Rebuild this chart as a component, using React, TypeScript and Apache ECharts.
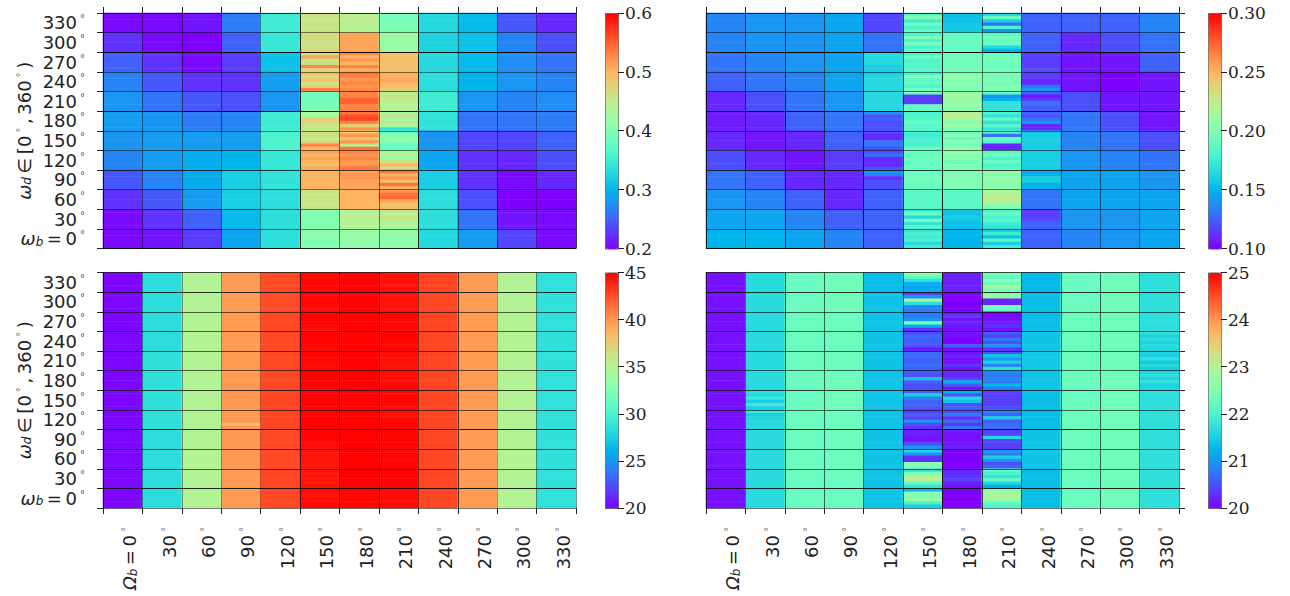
import React, { useEffect, useRef } from "react";
import * as echarts from "echarts";

const columnLabels = ["0", "30", "60", "90", "120", "150", "180", "210", "240", "270", "300", "330"];
const rowLabels = ["330", "300", "270", "240", "210", "180", "150", "120", "90", "60", "30", "0"];
const fineRows = Array.from({ length: 72 }, (_, i) => String(i));
const rainbow = [
  "#8000ff", "#6628fe", "#4d4ffc", "#3374f8", "#1a96f2", "#00b4ec", "#1acee3", "#33e3d9", "#4df3ce", "#66fcc2", "#80ffb4",
  "#99fca5", "#b3f396", "#cce385", "#e6ce74", "#ffb462", "#ff964f", "#ff743b", "#ff4f28", "#ff2814", "#ff0000",
];

// Each column runs from the top row down. 12 values = whole cells, 72 values = six stripes per cell.
const topLeftColumns: number[][] = [
  [0.205, 0.225, 0.25, 0.27, 0.28, 0.285, 0.28, 0.27, 0.245, 0.225, 0.205, 0.205],
  [0.205, 0.205, 0.225, 0.245, 0.26, 0.28, 0.285, 0.285, 0.27, 0.245, 0.225, 0.21],
  [0.21, 0.2, 0.205, 0.225, 0.245, 0.265, 0.285, 0.295, 0.295, 0.285, 0.25, 0.23],
  [0.265, 0.25, 0.23, 0.225, 0.24, 0.27, 0.285, 0.3, 0.32, 0.32, 0.305, 0.29],
  [0.35, 0.345, 0.31, 0.285, 0.28, 0.35, 0.36, 0.345, 0.34, 0.335, 0.335, 0.335],
  [
    0.46, 0.46, 0.45, 0.47, 0.45, 0.46, 0.47, 0.46, 0.47, 0.46, 0.46, 0.48,
    0.47, 0.51, 0.46, 0.46, 0.53, 0.47, 0.49, 0.47, 0.49, 0.46, 0.48, 0.53,
    0.39, 0.39, 0.39, 0.39, 0.39, 0.4, 0.43, 0.43, 0.48, 0.47, 0.46, 0.45,
    0.46, 0.46, 0.45, 0.47, 0.53, 0.5, 0.51, 0.5, 0.51, 0.5, 0.49, 0.51,
    0.5, 0.5, 0.5, 0.5, 0.5, 0.5, 0.46, 0.45, 0.46, 0.46, 0.45, 0.46,
    0.405, 0.405, 0.4, 0.4, 0.4, 0.405, 0.41, 0.41, 0.41, 0.4, 0.4, 0.41,
  ],
  [
    0.44, 0.45, 0.44, 0.45, 0.44, 0.44, 0.51, 0.51, 0.51, 0.51, 0.51, 0.51,
    0.53, 0.5, 0.52, 0.5, 0.53, 0.5, 0.54, 0.53, 0.52, 0.53, 0.52, 0.53,
    0.53, 0.53, 0.55, 0.55, 0.53, 0.53, 0.54, 0.56, 0.565, 0.53, 0.48, 0.52,
    0.48, 0.52, 0.49, 0.52, 0.45, 0.54, 0.53, 0.52, 0.53, 0.52, 0.52, 0.54,
    0.51, 0.52, 0.52, 0.51, 0.51, 0.51, 0.5, 0.5, 0.5, 0.5, 0.5, 0.5,
    0.44, 0.44, 0.45, 0.44, 0.44, 0.44, 0.42, 0.42, 0.42, 0.42, 0.41, 0.42,
  ],
  [
    0.395, 0.39, 0.39, 0.4, 0.4, 0.39, 0.43, 0.42, 0.42, 0.42, 0.42, 0.43,
    0.49, 0.49, 0.49, 0.49, 0.49, 0.49, 0.5, 0.5, 0.51, 0.5, 0.49, 0.48,
    0.44, 0.46, 0.45, 0.44, 0.44, 0.44, 0.42, 0.46, 0.42, 0.46, 0.43, 0.34,
    0.38, 0.4, 0.42, 0.4, 0.38, 0.38, 0.43, 0.44, 0.42, 0.46, 0.5, 0.47,
    0.54, 0.5, 0.52, 0.49, 0.54, 0.5, 0.52, 0.54, 0.545, 0.51, 0.49, 0.49,
    0.46, 0.44, 0.46, 0.44, 0.44, 0.43, 0.41, 0.42, 0.41, 0.41, 0.41, 0.41,
  ],
  [0.33, 0.325, 0.33, 0.335, 0.35, 0.34, 0.28, 0.29, 0.32, 0.335, 0.335, 0.33],
  [0.305, 0.31, 0.305, 0.3, 0.28, 0.26, 0.235, 0.225, 0.225, 0.24, 0.26, 0.285],
  [0.245, 0.27, 0.275, 0.28, 0.27, 0.26, 0.235, 0.22, 0.205, 0.2, 0.21, 0.235],
  [0.22, 0.24, 0.26, 0.27, 0.275, 0.265, 0.25, 0.24, 0.22, 0.2, 0.205, 0.205],
];

const topRightColumns: number[][] = [
  [0.135, 0.135, 0.13, 0.125, 0.11, 0.107, 0.11, 0.12, 0.13, 0.14, 0.145, 0.15],
  [0.14, 0.14, 0.135, 0.13, 0.12, 0.11, 0.105, 0.11, 0.125, 0.135, 0.145, 0.15],
  [0.14, 0.14, 0.14, 0.135, 0.13, 0.125, 0.11, 0.105, 0.11, 0.125, 0.135, 0.145],
  [0.145, 0.145, 0.145, 0.145, 0.14, 0.13, 0.125, 0.115, 0.11, 0.11, 0.125, 0.135],
  [
    0.118, 0.118, 0.118, 0.118, 0.118, 0.118, 0.13, 0.13, 0.13, 0.13, 0.13, 0.13,
    0.165, 0.165, 0.165, 0.165, 0.16, 0.16, 0.16, 0.165, 0.165, 0.165, 0.165, 0.165,
    0.165, 0.165, 0.165, 0.165, 0.165, 0.165, 0.14, 0.12, 0.125, 0.12, 0.12, 0.12,
    0.12, 0.11, 0.11, 0.13, 0.13, 0.12, 0.12, 0.13, 0.11, 0.11, 0.11, 0.12,
    0.14, 0.135, 0.11, 0.12, 0.12, 0.12, 0.125, 0.125, 0.125, 0.125, 0.125, 0.125,
    0.125, 0.125, 0.125, 0.125, 0.125, 0.125, 0.125, 0.125, 0.125, 0.125, 0.125, 0.125,
  ],
  [
    0.185, 0.2, 0.175, 0.195, 0.18, 0.19, 0.18, 0.2, 0.18, 0.195, 0.18, 0.19,
    0.18, 0.195, 0.18, 0.185, 0.18, 0.185, 0.18, 0.2, 0.185, 0.19, 0.18, 0.195,
    0.195, 0.115, 0.115, 0.115, 0.19, 0.19, 0.18, 0.18, 0.185, 0.19, 0.185, 0.185,
    0.18, 0.175, 0.18, 0.18, 0.18, 0.19, 0.19, 0.19, 0.195, 0.19, 0.19, 0.19,
    0.192, 0.192, 0.195, 0.192, 0.192, 0.192, 0.185, 0.185, 0.185, 0.185, 0.185, 0.185,
    0.175, 0.19, 0.165, 0.195, 0.17, 0.185, 0.17, 0.18, 0.175, 0.18, 0.165, 0.175,
  ],
  [
    0.155, 0.155, 0.155, 0.158, 0.158, 0.158, 0.19, 0.19, 0.19, 0.19, 0.19, 0.19,
    0.195, 0.195, 0.195, 0.195, 0.195, 0.195, 0.2, 0.21, 0.2, 0.205, 0.2, 0.2,
    0.21, 0.215, 0.21, 0.205, 0.21, 0.205, 0.22, 0.225, 0.215, 0.2, 0.21, 0.2,
    0.19, 0.205, 0.19, 0.2, 0.195, 0.21, 0.205, 0.2, 0.205, 0.195, 0.2, 0.2,
    0.2, 0.2, 0.2, 0.2, 0.2, 0.2, 0.185, 0.185, 0.185, 0.185, 0.185, 0.185,
    0.155, 0.155, 0.16, 0.158, 0.155, 0.155, 0.15, 0.15, 0.15, 0.15, 0.15, 0.15,
  ],
  [
    0.165, 0.19, 0.16, 0.13, 0.18, 0.14, 0.185, 0.195, 0.19, 0.19, 0.165, 0.15,
    0.19, 0.195, 0.195, 0.195, 0.19, 0.195, 0.2, 0.195, 0.2, 0.195, 0.2, 0.2,
    0.19, 0.14, 0.15, 0.17, 0.17, 0.17, 0.18, 0.17, 0.19, 0.17, 0.185, 0.17,
    0.18, 0.13, 0.19, 0.18, 0.11, 0.11, 0.185, 0.195, 0.18, 0.19, 0.18, 0.185,
    0.215, 0.2, 0.205, 0.21, 0.2, 0.205, 0.215, 0.22, 0.225, 0.22, 0.21, 0.2,
    0.18, 0.19, 0.18, 0.185, 0.175, 0.17, 0.16, 0.175, 0.155, 0.185, 0.16, 0.175,
  ],
  [
    0.125, 0.125, 0.125, 0.125, 0.125, 0.125, 0.125, 0.125, 0.125, 0.125, 0.125, 0.125,
    0.115, 0.115, 0.115, 0.115, 0.115, 0.12, 0.115, 0.115, 0.11, 0.11, 0.13, 0.14,
    0.125, 0.105, 0.115, 0.13, 0.125, 0.125, 0.125, 0.12, 0.13, 0.14, 0.11, 0.11,
    0.16, 0.16, 0.16, 0.16, 0.16, 0.16, 0.16, 0.16, 0.16, 0.16, 0.16, 0.16,
    0.145, 0.15, 0.16, 0.16, 0.15, 0.15, 0.13, 0.13, 0.13, 0.13, 0.13, 0.13,
    0.115, 0.115, 0.115, 0.12, 0.125, 0.125, 0.125, 0.125, 0.125, 0.125, 0.125, 0.125,
  ],
  [0.125, 0.11, 0.105, 0.105, 0.12, 0.13, 0.135, 0.14, 0.145, 0.145, 0.14, 0.135],
  [0.125, 0.12, 0.105, 0.1, 0.105, 0.12, 0.13, 0.135, 0.145, 0.145, 0.14, 0.14],
  [0.135, 0.13, 0.125, 0.105, 0.105, 0.105, 0.12, 0.13, 0.14, 0.145, 0.145, 0.145],
];

const bottomLeftColumns: number[][] = [
  [20.2, 20.2, 20.2, 20.2, 20.2, 20.2, 20.2, 20.2, 20.2, 20.2, 20.2, 20.2],
  [28.4, 28.4, 28.4, 28.4, 28.5, 28.5, 28.5, 28.5, 28.4, 28.4, 28.4, 28.4],
  [35.0, 35.0, 35.0, 35.0, 35.0, 35.0, 35.0, 35.0, 35.0, 35.0, 35.0, 35.0],
  [
    39.8, 39.8, 39.8, 39.8, 39.8, 39.8, 39.8, 39.8, 39.8, 39.8, 39.8, 39.8,
    39.8, 39.8, 39.8, 39.8, 39.8, 39.8, 39.8, 39.8, 39.8, 39.8, 39.8, 39.8,
    39.8, 39.8, 39.8, 39.8, 39.8, 39.8, 39.6, 39.7, 39.7, 39.8, 39.9, 39.9,
    39.9, 39.9, 39.9, 39.9, 39.9, 39.9, 39.9, 39.9, 39.9, 39.9, 38.2, 39.9,
    39.9, 39.9, 39.9, 39.9, 39.9, 39.9, 39.9, 39.9, 39.9, 39.9, 39.9, 39.9,
    39.8, 39.8, 39.8, 39.8, 39.8, 39.8, 39.8, 39.8, 39.8, 39.8, 39.8, 39.8,
  ],
  [42.6, 42.6, 42.7, 42.7, 42.7, 42.7, 42.8, 42.8, 42.7, 42.7, 42.8, 42.7],
  [
    44.7, 44.7, 44.8, 44.8, 44.7, 44.7, 44.8, 44.7, 44.8, 44.8, 44.7, 44.6,
    44.8, 44.9, 44.9, 44.8, 44.7, 44.4, 44.9, 44.9, 44.8, 44.8, 44.8, 44.6,
    44.8, 44.8, 44.8, 44.7, 44.6, 44.7, 44.9, 44.9, 44.9, 44.8, 44.9, 44.7,
    44.9, 44.9, 44.9, 44.9, 44.9, 44.8, 44.9, 44.9, 44.9, 44.9, 44.9, 44.8,
    44.8, 44.8, 44.8, 44.8, 44.6, 44.6, 44.5, 44.3, 44.4, 44.4, 44.3, 44.3,
    44.3, 44.2, 44.3, 44.4, 44.2, 44.5, 44.7, 44.5, 44.5, 44.6, 44.6, 44.7,
  ],
  [44.9, 44.9, 44.9, 44.9, 44.9, 45.0, 44.9, 44.9, 45.0, 45.0, 45.0, 44.8],
  [
    44.4, 44.4, 44.5, 44.4, 44.5, 44.5, 44.5, 44.4, 44.3, 44.4, 44.5, 44.4,
    44.8, 44.8, 44.8, 44.7, 44.8, 44.6, 44.9, 44.9, 44.9, 44.8, 44.7, 44.8,
    44.5, 44.6, 44.4, 44.5, 44.3, 44.5, 44.7, 44.5, 44.7, 44.6, 44.8, 44.8,
    44.8, 44.7, 44.8, 44.8, 44.8, 44.6, 44.6, 44.5, 44.6, 44.8, 44.8, 44.8,
    44.9, 44.8, 44.8, 44.9, 44.9, 44.8, 44.7, 44.8, 44.8, 44.7, 44.9, 44.9,
    44.9, 44.9, 44.9, 44.9, 44.9, 44.9, 44.7, 44.6, 44.7, 44.6, 44.7, 44.6,
  ],
  [42.8, 42.8, 42.8, 42.8, 42.8, 42.8, 42.8, 42.8, 42.8, 42.8, 42.8, 42.8],
  [39.8, 39.8, 39.8, 39.8, 39.8, 39.8, 39.8, 39.8, 39.8, 39.8, 39.8, 39.8],
  [35.0, 35.0, 35.0, 35.0, 35.0, 35.0, 35.0, 35.0, 35.0, 35.0, 35.0, 35.0],
  [28.6, 28.6, 28.6, 28.6, 28.6, 28.6, 28.6, 28.6, 28.6, 28.6, 28.6, 28.6],
];

const bottomRightColumns: number[][] = [
  [20.1, 20.1, 20.1, 20.1, 20.1, 20.1, 20.1, 20.1, 20.1, 20.1, 20.1, 20.1],
  [
    21.65, 21.65, 21.65, 21.65, 21.65, 21.65, 21.65, 21.65, 21.65, 21.65, 21.65, 21.65,
    21.65, 21.65, 21.65, 21.65, 21.65, 21.65, 21.65, 21.65, 21.65, 21.65, 21.65, 21.65,
    21.65, 21.65, 21.65, 21.65, 21.65, 21.65, 21.65, 21.65, 21.65, 21.65, 21.65, 21.65,
    21.7, 21.6, 21.85, 21.5, 21.85, 21.5, 21.85, 21.5, 21.6, 21.65, 21.65, 21.65,
    21.65, 21.65, 21.65, 21.65, 21.65, 21.65, 21.65, 21.65, 21.65, 21.65, 21.65, 21.65,
    21.65, 21.65, 21.65, 21.65, 21.65, 21.65, 21.65, 21.65, 21.65, 21.65, 21.65, 21.65,
  ],
  [22.3, 22.3, 22.3, 22.3, 22.3, 22.3, 22.3, 22.3, 22.3, 22.3, 22.3, 22.3],
  [22.35, 22.35, 22.3, 22.3, 22.3, 22.35, 22.35, 22.3, 22.3, 22.3, 22.3, 22.3],
  [21.35, 21.4, 21.4, 21.4, 21.4, 21.4, 21.4, 21.4, 21.4, 21.4, 21.4, 21.4],
  [
    22.7, 22.2, 21.7, 21.2, 21.1, 21.2, 20.4, 21.0, 22.8, 21.7, 20.9, 20.8,
    20.8, 20.8, 21.0, 22.4, 21.2, 20.3, 20.5, 20.7, 20.6, 20.6, 20.5, 20.1,
    20.7, 20.7, 20.6, 20.6, 20.7, 20.6, 20.6, 20.5, 21.4, 20.6, 20.5, 20.5,
    20.6, 21.5, 20.9, 20.6, 20.7, 20.5, 20.4, 20.6, 20.4, 21.0, 20.5, 20.3,
    20.2, 20.2, 20.1, 20.1, 20.5, 21.0, 21.6, 21.0, 20.3, 20.3, 22.6, 22.5,
    21.7, 22.5, 23.1, 23.0, 22.2, 21.8, 21.3, 22.6, 22.4, 22.8, 22.0, 21.5,
  ],
  [
    20.2, 20.2, 20.2, 20.2, 20.2, 20.2, 20.0, 20.0, 20.0, 20.0, 20.0, 20.0,
    20.2, 20.4, 20.1, 20.3, 20.1, 20.1, 20.1, 20.1, 20.0, 20.0, 20.6, 20.1,
    20.1, 20.2, 20.1, 20.1, 20.3, 20.1, 20.3, 20.2, 20.4, 21.2, 20.6, 20.1,
    21.2, 20.5, 21.6, 21.4, 20.5, 20.6, 20.5, 20.8, 20.3, 20.7, 20.3, 20.8,
    20.2, 20.1, 20.1, 20.1, 20.1, 20.2, 20.0, 20.0, 20.0, 20.0, 20.0, 20.0,
    20.2, 20.3, 20.3, 20.4, 20.2, 20.1, 20.0, 20.0, 20.0, 20.0, 20.0, 20.0,
  ],
  [
    22.4, 22.2, 22.6, 22.3, 22.9, 22.4, 22.6, 22.7, 20.2, 20.2, 22.4, 22.2,
    20.0, 20.1, 20.1, 20.2, 20.3, 20.1, 20.6, 20.4, 20.8, 20.5, 21.0, 20.3,
    20.5, 21.4, 21.0, 21.5, 20.9, 21.7, 20.9, 20.8, 20.9, 20.8, 21.3, 20.8,
    20.4, 20.4, 20.4, 20.4, 20.4, 20.5, 20.9, 20.6, 21.5, 20.6, 20.7, 20.7,
    20.4, 20.4, 21.6, 20.5, 20.4, 20.4, 21.0, 20.8, 21.5, 21.0, 20.5, 20.6,
    22.2, 22.0, 21.8, 22.2, 21.6, 21.2, 22.5, 22.9, 23.0, 22.7, 22.3, 22.0,
  ],
  [21.3, 21.35, 21.35, 21.4, 21.45, 21.4, 21.35, 21.35, 21.4, 21.4, 21.35, 21.35],
  [22.3, 22.3, 22.3, 22.3, 22.3, 22.3, 22.3, 22.3, 22.3, 22.3, 22.3, 22.3],
  [22.35, 22.35, 22.35, 22.35, 22.35, 22.35, 22.35, 22.35, 22.35, 22.35, 22.35, 22.35],
  [
    21.7, 21.7, 21.7, 21.7, 21.7, 21.7, 21.7, 21.7, 21.7, 21.7, 21.7, 21.7,
    21.7, 21.7, 21.7, 21.7, 21.7, 21.7, 21.7, 21.55, 21.7, 21.55, 21.65, 21.6,
    21.55, 21.5, 21.7, 21.45, 21.65, 21.5, 21.6, 21.7, 21.55, 21.75, 21.55, 21.6,
    21.7, 21.7, 21.7, 21.7, 21.7, 21.7, 21.7, 21.7, 21.7, 21.7, 21.7, 21.7,
    21.7, 21.7, 21.7, 21.7, 21.7, 21.7, 21.7, 21.7, 21.7, 21.7, 21.7, 21.7,
    21.7, 21.7, 21.7, 21.7, 21.7, 21.7, 21.7, 21.7, 21.7, 21.7, 21.7, 21.7,
  ],
];

// Line darkness (the reference's resampling makes them uneven).
const verticalAlpha = [
  [0.85, 0.5, 0.5, 0.5, 0.35, 0.85, 0.5, 0.5, 0.85, 0.45, 0.45, 0.35, 0.7],
  [0.8, 0.6, 0.7, 0.6, 0.8, 0.7, 0.85, 0.5, 0.4, 0.5, 0.5, 0.4, 0.7],
  [0.8, 0.4, 0.4, 0.3, 0.25, 0.7, 0.5, 0.4, 0.4, 0.7, 0.3, 0.4, 0.4],
  [0.6, 0.4, 0.7, 0.6, 0.5, 0.6, 0.85, 0.7, 0.5, 0.6, 0.6, 0.4, 0.5],
];
const horizontalAlpha = [
  [0.8, 0.5, 0.95, 0.5, 0.55, 0.9, 0.5, 0.55, 0.75, 0.5, 0.55, 0.5, 0.9],
  [0.8, 0.5, 0.95, 0.5, 0.55, 0.9, 0.5, 0.55, 0.75, 0.5, 0.55, 0.5, 0.9],
  [0.7, 0.8, 0.6, 0.6, 0.6, 0.6, 0.75, 0.6, 0.85, 0.6, 0.6, 0.85, 0.5],
  [0.7, 0.8, 0.6, 0.6, 0.6, 0.6, 0.75, 0.6, 0.85, 0.6, 0.6, 0.85, 0.5],
];

const panelColumns = [topLeftColumns, topRightColumns, bottomLeftColumns, bottomRightColumns];
const scaleMin = [0.2, 0.1, 20, 20];
const scaleMax = [0.6, 0.3, 45, 25];
const scaleStep = [0.1, 0.05, 5, 1];
const scaleDecimals = [1, 2, 0, 0];

const INK = "#222";
const SANS = "DejaVu Sans";
const rich = {
  n: { fontFamily: SANS, fontSize: 18, color: INK },
  i: { fontFamily: SANS, fontSize: 18, fontStyle: "italic", color: INK },
  s: { fontFamily: SANS, fontSize: 12, fontStyle: "italic", color: INK, verticalAlign: "bottom", padding: [6, 0, 0, 0] },
  d: { fontFamily: SANS, fontSize: 10, color: "#555", verticalAlign: "top", padding: [0, 0, 0, 3] },
};

const cellsOf = (columns: number[][]) => {
  const out: number[][] = [];
  columns.forEach((col, x) => {
    for (let r = 0; r < 72; r++) {
      const v = col.length === 72 ? col[r] : col[Math.floor(r / 6)];
      out.push([x, r, v]);
    }
  });
  return out;
};
const black = (a: number) => `rgba(0,0,0,${a})`;

function buildOption() {
  const grid: any[] = [];
  const xAxis: any[] = [];
  const yAxis: any[] = [];
  const series: any[] = [];
  const visualMap: any[] = [];

  panelColumns.forEach((columns, k) => {
    const isRight = k % 2 === 1;
    const isBottom = k >= 2;
    const left = isRight ? 706 : 103;
    const top = isBottom ? 272.5 : 13;
    grid.push({ left, top, width: 473, height: 235.5 });
    xAxis.push({
      type: "category",
      gridIndex: k,
      data: columnLabels,
      position: isBottom ? "bottom" : "top",
      z: 5,
      axisLine: { show: false },
      axisTick: { show: true, length: 6, interval: 0, lineStyle: { color: INK } },
      splitLine: { show: true, interval: 0, lineStyle: { width: 1, color: verticalAlpha[k].map(black) } },
      axisLabel: {
        show: isBottom,
        interval: 0,
        rotate: 90,
        margin: 19,
        padding: [14, 0, 0, 0],
        rich,
        formatter: (v: string) => (v === "0" ? "{i|Ω}{s|b}{n|\u2009=\u20090}{d|°}" : `{n|${v}}{d|°}`),
      },
    });
    // Visible coarse axis: ticks, labels and grid lines of the twelve rows.
    yAxis.push({
      type: "category",
      gridIndex: k,
      data: rowLabels,
      inverse: true,
      position: isRight ? "right" : "left",
      z: 5,
      name: isRight ? "" : "{i|ω}{s|d}{n|\u2009∈\u2009[0}{d|°}{n|\u2009,\u2009360}{d|°}{n|\u2009)}",
      nameLocation: "middle",
      nameGap: 70,
      nameMoveOverlap: false,
      nameTextStyle: { rich },
      axisLine: { show: false },
      axisTick: { show: true, length: 6, interval: 0, lineStyle: { color: INK } },
      splitLine: { show: true, interval: 0, lineStyle: { width: 1, color: horizontalAlpha[k].map(black) } },
      axisLabel: {
        show: !isRight,
        interval: 0,
        margin: 18,
        rich,
        formatter: (v: string) => (v === "0" ? "{i|ω}{s|b}{n|\u2009=\u20090}{d|°}" : `{n|${v}}{d|°}`),
      },
    });
    series.push({
      type: "heatmap",
      xAxisIndex: k,
      yAxisIndex: 2 * 4 + k, // the hidden fine axis, appended below
      data: cellsOf(columns),
      silent: true,
      progressive: 0,
      itemStyle: { borderWidth: 0 },
      emphasis: { disabled: true },
    });
  });

  panelColumns.forEach((_, k) => {
    const isRight = k % 2 === 1;
    const isBottom = k >= 2;
    const top = isBottom ? 272.5 : 13;
    const left = isRight ? 1208 : 605;
    // Colour-bar axis
    grid.push({ left, top, width: 13, height: 235.5 });
    xAxis.push({ type: "category", gridIndex: 4 + k, data: ["bar"], show: false });
    yAxis.push({
      type: "value",
      gridIndex: 4 + k,
      position: "right",
      min: scaleMin[k],
      max: scaleMax[k],
      interval: scaleStep[k],
      z: 6,
      splitLine: { show: false },
      axisLine: { show: false },
      axisTick: { show: true, length: 6, lineStyle: { color: INK } },
      axisLabel: {
        margin: 7,
        fontFamily: "DejaVu Serif",
        fontSize: 17,
        color: INK,
        formatter: (v: number) => v.toFixed(scaleDecimals[k]),
      },
    });
    visualMap.push({
      type: "continuous",
      seriesIndex: k,
      min: scaleMin[k],
      max: scaleMax[k],
      calculable: false,
      realtime: false,
      hoverLink: false,
      left,
      top,
      itemWidth: 13,
      itemHeight: 235.5,
      padding: 0,
      borderWidth: 1,
      borderColor: "rgba(30,30,30,0.75)",
      inRange: { color: rainbow },
    });
  });

  panelColumns.forEach((_, k) => {
    yAxis.push({ type: "category", gridIndex: k, data: fineRows, inverse: true, show: false });
  });

  return { animation: false, backgroundColor: "#fff", grid, xAxis, yAxis, series, visualMap, tooltip: { show: false } };
}

export default function App() {
  const ref = useRef<HTMLDivElement>(null);
  useEffect(() => {
    document.body.style.margin = "0";
    const chart = echarts.init(ref.current!, undefined, { renderer: "svg" });
    chart.setOption(buildOption() as any);
    return () => chart.dispose();
  }, []);
  return <div ref={ref} style={{ width: 1290, height: 596 }} />;
}
